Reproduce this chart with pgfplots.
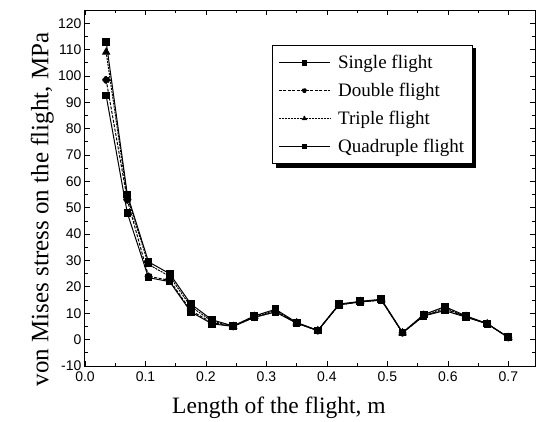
\documentclass[border=0pt]{standalone}
\usepackage{pgfplots}
\pgfplotsset{compat=1.18}
\usepackage{fontspec}
\setmainfont{Liberation Serif}
\newfontfamily\ticksans{Liberation Sans}

\pgfplotstableread{
x      single double triple quad
0.035  92.5   98.5   109    113
0.070  48     53     54     55
0.105  23.5   24     28.5   29.5
0.140  22     22.5   24     25
0.175  10.5   11     12.5   13.5
0.210  6      6.5    7      7.5
0.245  5      5      5      5.2
0.280  8.5    8.5    8.8    9
0.315  10.5   10.5   11     11.5
0.350  6.2    6.3    6.4    6.5
0.385  3.4    3.4    3.4    3.5
0.420  13.2   13.2   13.3   13.5
0.455  14.3   14.3   14.4   14.5
0.490  15     15     15.1   15.3
0.525  2.6    2.6    2.6    2.7
0.560  9      9      9.2    9.5
0.595  11     11.5   12     12.5
0.630  8.5    8.7    8.8    9
0.665  6      6      6      6.1
0.700  0.8    0.8    0.8    0.9
}\stress

\begin{document}
\begin{tikzpicture}
\useasboundingbox (-85pt,-55pt) rectangle (451pt,366pt);
\begin{axis}[
  scale only axis,
  width=450pt, height=356pt,
  xmin=0, xmax=0.744,
  ymin=-10, ymax=125,
  xtick={0,0.1,...,0.7},
  ytick={-10,0,...,120},
  minor x tick num=1,
  minor y tick num=1,
  tick align=inside,
  xtick pos=both, ytick pos=both,
  major tick length=5pt, minor tick length=3pt,
  xticklabel style={/pgf/number format/fixed, /pgf/number format/fixed zerofill, /pgf/number format/precision=1, yshift=-2pt},
  /pgf/number format/assume math mode=true,
  tick label style={font=\ticksans\fontsize{14}{16}\selectfont},
  axis line style={line width=1pt},
  every tick/.style={black, line width=0.8pt},
  xlabel={Length of the flight, m},
  ylabel={von Mises stress on the flight, MPa},
  xlabel style={font=\fontsize{23.5}{27}\selectfont, at={(axis description cs:0.431,-0.118)}, anchor=center},
  ylabel style={font=\fontsize{25}{29}\selectfont, at={(axis description cs:-0.095,0.44)}, anchor=center},
  legend style={at={(axis description cs:0.4156,0.902)}, anchor=north west,
    name=leg, draw=black, line width=0.8pt, fill=white,
    font=\fontsize{19}{22}\selectfont, row sep=9pt,
    inner xsep=6pt, inner ysep=8pt},
  legend cell align=left,
  legend image code/.code={\draw[line width=0.6pt, mark options={scale=0.65}, mark repeat=2, mark phase=2]
      plot coordinates {(0cm,0cm) (0.9cm,0cm) (1.8cm,0cm)};
    \path (2.0cm,0cm);},
  every axis plot/.append style={black, line width=1pt},
]
\addplot[mark=square*, mark size=3.2pt, solid] table[x=x, y=single] {\stress};
\addplot[mark=*, mark size=3.4pt, dash pattern=on 3pt off 1.5pt] table[x=x, y=double] {\stress};
\addplot[mark=triangle*, mark size=4pt, dash pattern=on 2pt off 1pt, mark options={solid}] table[x=x, y=triple] {\stress};
\addplot[mark=square*, mark size=3.4pt, solid] table[x=x, y=quad] {\stress};
\legend{Single flight, Double flight, Triple flight, Quadruple flight}
\end{axis}
% legend drop shadow
\fill[black] ([xshift=3.5pt,yshift=-3.5pt]leg.south west) rectangle ([xshift=3.5pt]leg.south east);
\fill[black] ([yshift=-3.5pt]leg.north east) rectangle ([xshift=3.5pt,yshift=-3.5pt]leg.south east);
\end{tikzpicture}
\end{document}
